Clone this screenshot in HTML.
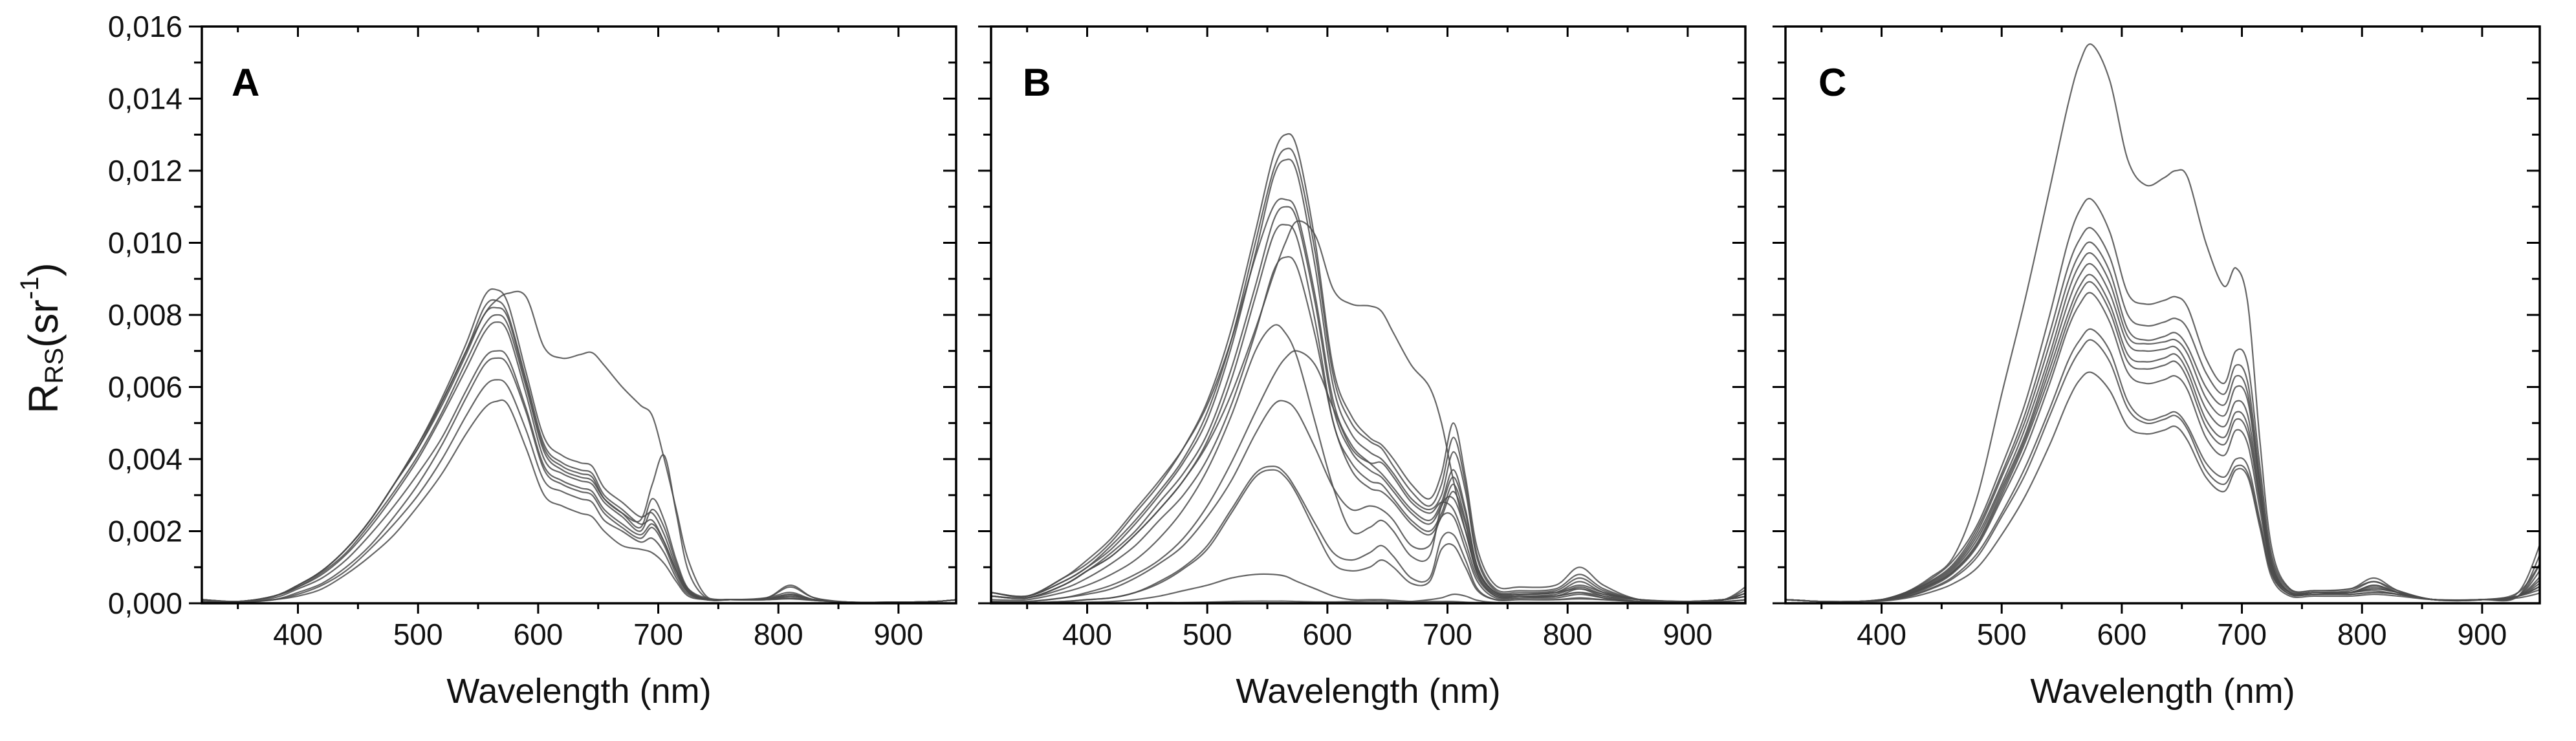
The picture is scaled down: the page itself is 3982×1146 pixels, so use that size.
<!DOCTYPE html>
<html><head><meta charset="utf-8"><style>
html,body{margin:0;padding:0;background:#fff;}
svg{display:block;font-family:"Liberation Sans",Arial,sans-serif;}
</style></head><body>
<svg id="fig" width="3982" height="1146" viewBox="0 0 3982 1146">
<rect x="0" y="0" width="3982" height="1146" fill="#fff"/>
<g transform="translate(72,523) rotate(-90)">
<text x="0" y="0" text-anchor="middle" dominant-baseline="middle" font-size="64" fill="#111">R<tspan font-size="40" dy="14">RS</tspan><tspan dy="-14">(sr</tspan><tspan font-size="40" dy="-24">-1</tspan><tspan dy="24">)</tspan></text>
</g>
</svg>
<script>
const wavelengths=[320,350,380,400,420,440,460,480,500,520,540,555,565,575,590,605,620,635,645,655,670,685,695,705,715,725,740,760,790,810,830,860,900,930,950];
const xTicks=[400,500,600,700,800,900];
const yTicks=[0,0.002,0.004,0.006,0.008,0.010,0.012,0.014,0.016];
const yTickLabels=["0,000","0,002","0,004","0,006","0,008","0,010","0,012","0,014","0,016"];
const panelLabels=["A","B","C"];
// values in units of 0.001 sr^-1
const seriesA=[
[0.1,0.05,0.2,0.5,0.9,1.5,2.3,3.3,4.4,5.7,7.2,8.5,8.7,8.3,6.4,4.6,4.1,3.9,3.8,3.2,2.8,2.4,2.5,1.9,1.0,0.4,0.15,0.1,0.15,0.3,0.1,0.03,0.03,0.05,0.1],
[0.1,0.05,0.2,0.5,0.9,1.5,2.3,3.3,4.3,5.6,7.0,8.2,8.4,8.0,6.2,4.4,3.9,3.7,3.6,3.0,2.6,2.2,2.3,1.7,0.9,0.35,0.12,0.1,0.12,0.25,0.1,0.03,0.03,0.05,0.1],
[0.1,0.05,0.2,0.45,0.85,1.4,2.2,3.1,4.1,5.3,6.7,7.7,8.0,7.7,6.0,4.2,3.7,3.5,3.4,2.9,2.5,2.1,2.9,2.3,1.2,0.4,0.12,0.1,0.12,0.25,0.1,0.03,0.03,0.05,0.1],
[0.1,0.05,0.2,0.45,0.8,1.35,2.1,3.0,4.0,5.2,6.5,7.5,7.8,7.5,5.8,4.0,3.6,3.4,3.3,2.8,2.4,2.0,2.6,2.1,1.1,0.35,0.12,0.1,0.12,0.2,0.1,0.03,0.03,0.05,0.1],
[0.1,0.05,0.15,0.4,0.7,1.2,1.9,2.7,3.6,4.6,5.9,6.8,7.0,6.8,5.4,3.8,3.4,3.2,3.1,2.6,2.2,1.9,2.2,1.7,0.9,0.3,0.1,0.1,0.1,0.2,0.1,0.03,0.03,0.05,0.1],
[0.05,0.03,0.1,0.3,0.55,1.0,1.6,2.4,3.3,4.4,5.7,6.6,6.8,6.6,5.3,3.7,3.3,3.1,3.0,2.5,2.1,1.8,2.1,1.6,0.8,0.3,0.1,0.1,0.1,0.15,0.08,0.03,0.03,0.05,0.1],
[0.05,0.03,0.1,0.25,0.5,0.9,1.5,2.2,3.0,4.0,5.2,6.0,6.2,6.0,4.8,3.4,3.1,2.9,2.8,2.3,2.0,1.7,1.8,1.4,0.7,0.25,0.1,0.1,0.1,0.15,0.08,0.03,0.03,0.05,0.1],
[0.05,0.03,0.1,0.2,0.4,0.8,1.3,1.9,2.7,3.6,4.7,5.4,5.6,5.5,4.3,3.0,2.7,2.5,2.4,2.0,1.6,1.5,1.4,1.1,0.6,0.2,0.1,0.1,0.1,0.12,0.08,0.03,0.03,0.05,0.1],
[0.1,0.05,0.2,0.5,0.9,1.5,2.3,3.3,4.4,5.6,7.0,8.0,8.4,8.6,8.5,7.1,6.8,6.9,6.95,6.6,6.0,5.5,5.2,4.0,2.6,1.2,0.2,0.1,0.15,0.45,0.15,0.03,0.03,0.05,0.1],
[0.1,0.05,0.2,0.5,0.9,1.5,2.3,3.3,4.3,5.5,6.9,8.0,8.2,7.9,6.1,4.3,3.8,3.6,3.5,2.9,2.5,2.3,3.3,4.1,2.5,0.9,0.15,0.1,0.15,0.5,0.15,0.03,0.03,0.05,0.1]
];
const seriesB=[
[0.3,0.2,0.7,1.1,1.7,2.5,3.3,4.3,5.6,7.6,10.3,12.4,13.0,12.6,10.0,6.5,5.2,4.6,4.4,4.0,3.3,2.9,3.6,5.0,3.5,1.5,0.5,0.45,0.5,1.0,0.5,0.1,0.05,0.1,0.5],
[0.3,0.2,0.6,1.0,1.6,2.3,3.1,4.0,5.3,7.3,10.0,12.0,12.6,12.2,9.7,6.3,5.0,4.5,4.3,3.8,3.1,2.7,3.3,4.6,3.3,1.3,0.4,0.35,0.4,0.8,0.4,0.1,0.05,0.1,0.4],
[0.3,0.2,0.6,1.0,1.5,2.2,3.0,3.9,5.1,7.1,9.7,11.8,12.3,11.9,9.3,6.0,4.7,4.2,4.0,3.6,2.9,2.6,3.0,4.2,3.1,1.2,0.35,0.3,0.35,0.7,0.35,0.1,0.05,0.1,0.3],
[0.3,0.2,0.7,1.2,1.8,2.6,3.4,4.3,5.5,7.3,9.6,11.0,11.2,10.8,8.5,5.6,4.4,3.9,3.6,3.2,2.6,2.3,2.8,3.7,2.6,1.0,0.3,0.25,0.3,0.6,0.3,0.1,0.05,0.1,0.3],
[0.2,0.15,0.5,0.9,1.4,2.0,2.8,3.6,4.7,6.5,8.8,10.6,11.0,10.6,8.3,5.4,4.2,3.7,3.5,3.1,2.5,2.2,2.7,3.5,2.5,1.0,0.3,0.25,0.3,0.5,0.3,0.1,0.05,0.1,0.3],
[0.2,0.15,0.5,0.9,1.3,1.9,2.6,3.4,4.5,6.2,8.5,10.2,10.5,10.1,7.8,5.0,3.9,3.4,3.3,2.9,2.3,2.0,2.5,3.3,2.3,0.9,0.25,0.2,0.25,0.45,0.25,0.1,0.05,0.1,0.3],
[0.2,0.15,0.4,0.7,1.1,1.6,2.3,3.0,4.0,5.5,7.5,9.2,9.6,9.3,7.4,5.0,3.7,3.2,3.1,2.8,2.2,1.9,2.4,3.1,2.2,0.8,0.25,0.2,0.2,0.4,0.2,0.1,0.05,0.1,0.2],
[0.2,0.15,0.5,0.9,1.3,1.9,2.6,3.4,4.4,5.8,7.6,9.1,10.0,10.6,10.2,8.7,8.3,8.25,8.1,7.5,6.6,6.0,5.0,3.4,2.0,0.9,0.3,0.25,0.3,0.4,0.25,0.1,0.05,0.1,0.2],
[0.1,0.1,0.3,0.5,0.8,1.2,1.8,2.6,3.7,5.2,7.0,7.7,7.5,6.8,5.0,3.2,2.0,2.1,2.3,2.0,1.3,1.3,2.7,2.9,2.0,0.8,0.2,0.2,0.2,0.3,0.2,0.05,0.05,0.1,0.2],
[0.05,0.05,0.15,0.3,0.5,0.8,1.2,1.8,2.7,3.9,5.3,6.3,6.8,7.0,6.6,5.4,4.3,3.9,3.9,3.5,2.8,2.5,2.8,2.6,1.7,0.7,0.2,0.15,0.2,0.3,0.15,0.05,0.05,0.1,0.2],
[0.05,0.05,0.15,0.25,0.4,0.7,1.1,1.6,2.4,3.4,4.7,5.5,5.6,5.3,4.3,3.2,2.6,2.7,2.6,2.3,1.6,1.6,2.4,2.4,1.5,0.6,0.15,0.15,0.15,0.25,0.15,0.05,0.05,0.1,0.2],
[0.02,0.02,0.05,0.1,0.15,0.3,0.6,1.0,1.6,2.6,3.6,3.8,3.6,3.1,2.2,1.4,1.2,1.4,1.6,1.3,0.7,0.7,1.8,1.9,1.2,0.4,0.1,0.1,0.1,0.15,0.1,0.05,0.05,0.05,0.1],
[0.02,0.02,0.05,0.1,0.15,0.3,0.55,0.95,1.5,2.5,3.5,3.7,3.5,3.0,2.0,1.1,0.9,1.0,1.2,1.0,0.55,0.6,1.5,1.6,1.0,0.35,0.1,0.1,0.1,0.12,0.1,0.05,0.05,0.05,0.1],
[0,0,0.02,0.03,0.05,0.1,0.2,0.35,0.5,0.7,0.8,0.8,0.75,0.6,0.4,0.2,0.1,0.1,0.1,0.08,0.05,0.05,0.05,0.05,0.03,0.02,0.02,0.02,0.02,0.02,0.02,0.02,0.02,0.05,0.1],
[0,0,0,0,0,0.01,0.02,0.02,0.03,0.05,0.06,0.06,0.06,0.05,0.04,0.04,0.05,0.06,0.06,0.05,0.05,0.1,0.15,0.25,0.2,0.08,0.02,0.02,0.02,0.02,0.02,0.02,0.02,0.02,0.02]
];
const seriesC=[
[0.1,0.05,0.05,0.1,0.3,0.7,1.3,3.0,5.8,8.5,11.5,13.8,15.0,15.5,14.5,12.3,11.6,11.8,12.0,11.8,10.0,8.8,9.3,8.3,4.5,1.5,0.4,0.35,0.4,0.6,0.35,0.1,0.1,0.3,1.2],
[0.1,0.05,0.05,0.1,0.3,0.65,1.2,2.2,3.8,5.6,8.0,10.0,10.9,11.2,10.3,8.6,8.3,8.4,8.5,8.2,6.8,6.1,7.0,6.6,3.8,1.3,0.4,0.35,0.4,0.7,0.35,0.1,0.1,0.3,1.8],
[0.1,0.05,0.05,0.1,0.3,0.6,1.1,2.1,3.6,5.3,7.5,9.3,10.1,10.4,9.6,8.0,7.7,7.8,7.9,7.6,6.4,5.8,6.6,6.1,3.5,1.2,0.35,0.3,0.35,0.6,0.3,0.1,0.1,0.2,1.5],
[0.1,0.05,0.05,0.1,0.28,0.58,1.05,2.0,3.5,5.1,7.2,8.9,9.7,10.0,9.2,7.6,7.3,7.4,7.5,7.1,6.0,5.5,6.3,5.8,3.3,1.1,0.3,0.3,0.3,0.5,0.3,0.1,0.1,0.2,1.2],
[0.1,0.05,0.05,0.1,0.26,0.55,1.0,1.9,3.3,4.9,6.9,8.6,9.4,9.7,8.9,7.4,7.2,7.25,7.3,6.9,5.7,5.2,6.0,5.6,3.2,1.1,0.3,0.3,0.3,0.5,0.3,0.1,0.1,0.2,1.0],
[0.1,0.05,0.05,0.1,0.25,0.52,0.95,1.8,3.2,4.7,6.7,8.3,9.1,9.4,8.6,7.2,7.0,7.05,7.1,6.6,5.4,4.9,5.6,5.2,3.0,1.0,0.3,0.3,0.3,0.45,0.3,0.1,0.1,0.2,0.8],
[0.1,0.05,0.05,0.1,0.23,0.5,0.9,1.7,3.1,4.6,6.5,8.0,8.8,9.1,8.3,6.9,6.7,6.8,6.9,6.4,5.1,4.6,5.3,4.9,2.9,1.0,0.3,0.3,0.3,0.4,0.3,0.1,0.1,0.2,0.7],
[0.1,0.05,0.05,0.1,0.22,0.48,0.88,1.65,3.0,4.5,6.3,7.8,8.6,8.9,8.1,6.7,6.5,6.6,6.7,6.2,4.9,4.4,5.1,4.7,2.8,0.9,0.3,0.3,0.3,0.4,0.3,0.1,0.1,0.2,0.6],
[0.1,0.05,0.05,0.1,0.2,0.45,0.85,1.6,2.9,4.3,6.1,7.6,8.3,8.6,7.8,6.4,6.1,6.2,6.3,5.9,4.6,4.1,4.8,4.4,2.6,0.9,0.3,0.25,0.3,0.35,0.25,0.1,0.1,0.2,0.5],
[0.1,0.05,0.05,0.08,0.18,0.4,0.75,1.4,2.5,3.8,5.4,6.7,7.3,7.6,7.0,5.6,5.1,5.2,5.3,4.9,3.9,3.5,4.0,3.8,2.3,0.8,0.25,0.25,0.25,0.3,0.25,0.1,0.1,0.2,0.5],
[0.1,0.05,0.05,0.08,0.17,0.38,0.7,1.3,2.4,3.6,5.2,6.4,7.0,7.3,6.7,5.4,5.0,5.1,5.2,4.8,3.7,3.3,3.8,3.6,2.2,0.8,0.25,0.25,0.25,0.3,0.25,0.1,0.1,0.2,0.4],
[0.1,0.05,0.05,0.06,0.14,0.3,0.55,1.0,1.9,3.0,4.4,5.6,6.2,6.4,5.9,4.9,4.7,4.8,4.9,4.5,3.5,3.1,3.7,3.5,2.1,0.7,0.2,0.2,0.2,0.25,0.2,0.1,0.1,0.15,0.3]
];
const allSeries=[seriesA,seriesB,seriesC];
const panelLefts=[312,1532,2760];
const letterX=[358,1581,2811];
const xMin=320,xMax=948,yMin=0,yMax=0.016;
const plotW=1166,plotTop=41,plotBottom=933;
const NS="http://www.w3.org/2000/svg";
const svgEl=document.getElementById('fig');
function mk(tag,attrs,parent){const e=document.createElementNS(NS,tag);for(const k in attrs)e.setAttribute(k,attrs[k]);(parent||svgEl).appendChild(e);return e;}
function catmull(pts){let d="M"+pts[0][0].toFixed(1)+","+pts[0][1].toFixed(1);for(let i=0;i<pts.length-1;i++){const p0=pts[Math.max(0,i-1)],p1=pts[i],p2=pts[i+1],p3=pts[Math.min(pts.length-1,i+2)];const c1x=p1[0]+(p2[0]-p0[0])/6,c1y=p1[1]+(p2[1]-p0[1])/6,c2x=p2[0]-(p3[0]-p1[0])/6,c2y=p2[1]-(p3[1]-p1[1])/6;d+="C"+c1x.toFixed(1)+","+c1y.toFixed(1)+" "+c2x.toFixed(1)+","+c2y.toFixed(1)+" "+p2[0].toFixed(1)+","+p2[1].toFixed(1);}return d;}
allSeries.forEach((series,pi)=>{
  const L=panelLefts[pi],R=L+plotW;
  const xs=v=>L+(v-xMin)/(xMax-xMin)*plotW;
  const ys=v=>plotBottom-(v-yMin)/(yMax-yMin)*(plotBottom-plotTop);
  const g=mk('g',{});
  
  
  const clipId='clip'+pi;
  const cp=mk('clipPath',{id:clipId},g);mk('rect',{x:L,y:plotTop,width:plotW,height:plotBottom-plotTop},cp);
  const lines=mk('g',{'clip-path':'url(#'+clipId+')'},g);
  series.forEach((vals,si)=>{
    const pts=vals.map((v,i)=>[xs(wavelengths[i]),ys(v/1000)]);
    const p=mk('path',{d:catmull(pts),fill:'none',stroke:'#4a4a4a','stroke-width':2.2,'stroke-opacity':0.85},lines);
    
    
  });
  const fr=mk('rect',{x:L,y:plotTop,width:plotW,height:plotBottom-plotTop,fill:'none',stroke:'#000','stroke-width':3.5},g);
  
  
  for(let w=350;w<=950;w+=50){
    const x=xs(w);if(x>R+1)continue;const major=w%100===0;const len=major?16:9;
    mk('line',{x1:x,y1:plotBottom,x2:x,y2:plotBottom+len,stroke:'#000','stroke-width':3},g);
    mk('line',{x1:x,y1:plotTop,x2:x,y2:plotTop+len,stroke:'#000','stroke-width':3},g);
  }
  xTicks.forEach(w=>{
    const t=mk('text',{x:xs(w),y:997,'text-anchor':'middle','font-size':46,fill:'#111'},g);
    
    
    t.textContent=w;
  });
  for(let k=0;k<=16;k++){
    const v=k*0.001,y=ys(v),major=k%2===0,len=major?20:12;
    mk('line',{x1:L-len,y1:y,x2:L,y2:y,stroke:'#000','stroke-width':3},g);
    mk('line',{x1:R-len,y1:y,x2:R,y2:y,stroke:'#000','stroke-width':3},g);
  }
  if(pi===0){
    yTicks.forEach((v,i)=>{
      const t=mk('text',{x:282,y:ys(v)+16,'text-anchor':'end','font-size':46,fill:'#111'},g);
      
      
      t.textContent=yTickLabels[i];
    });
  }
  const xt=mk('text',{x:L+plotW/2,y:1087,'text-anchor':'middle','font-size':54,fill:'#111'},g);
  
  
  xt.textContent='Wavelength (nm)';
  const pl=mk('text',{x:letterX[pi],y:150,'font-size':60,'font-weight':'bold',fill:'#000'},g);
  pl.setAttribute('y',148);
  
  
  pl.textContent=panelLabels[pi];
});
</script>
</body></html>
